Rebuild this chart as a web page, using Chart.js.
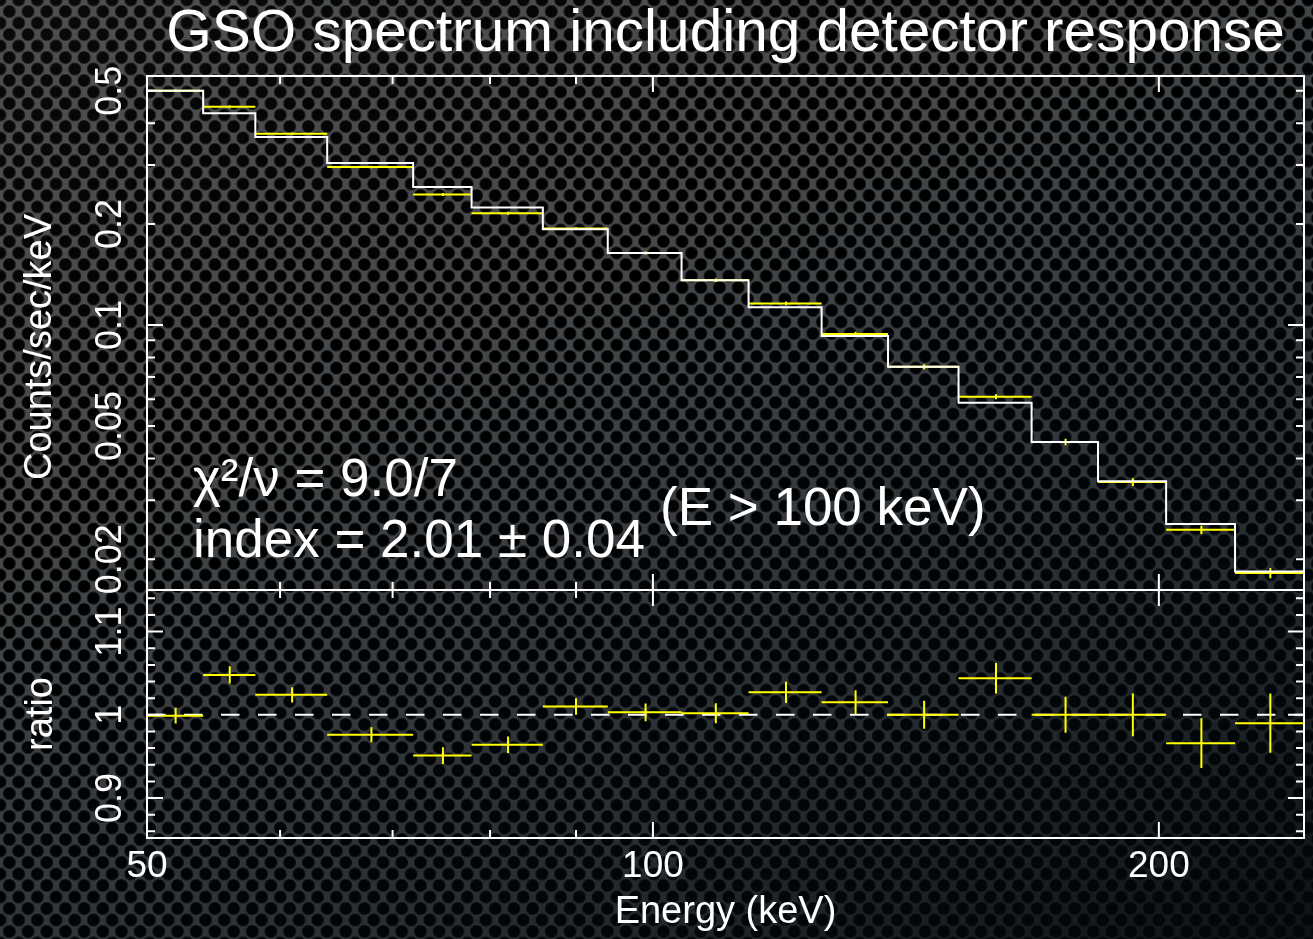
<!DOCTYPE html>
<html>
<head>
<meta charset="utf-8">
<title>GSO spectrum including detector response</title>
<script src="https://cdn.jsdelivr.net/npm/chart.js@4.4.1/dist/chart.umd.min.js"></script>
<style>
  html, body { margin: 0; padding: 0; }
  body {
    width: 1313px; height: 939px; overflow: hidden; position: relative;
    background-color: #46494c;
    background-image:
      linear-gradient(155deg, rgba(255,255,255,0.04) 0%, rgba(0,0,0,0) 35%, rgba(4,12,18,0.45) 72%, rgba(2,8,12,0.85) 100%),
      radial-gradient(circle, #000 0, #000 5.5px, rgba(0,0,0,0) 7px),
      radial-gradient(circle, #000 0, #000 5.5px, rgba(0,0,0,0) 7px);
    background-size: 100% 100%, 18.7px 23px, 18.7px 23px;
    background-position: 0 0, 0 0, 9.35px 11.5px;
  }
  .panel { position: absolute; left: 0; top: 0; width: 1313px; height: 939px; }
</style>
</head>
<body>
<div class="panel"><canvas id="spec"></canvas></div>
<div class="panel"><canvas id="ratio"></canvas></div>
<script>
// energy bins (keV)
var binLo  = [50, 54, 58, 64, 72, 78, 86, 94, 104, 114, 126, 138, 152, 168, 184, 202, 222];
var binHi  = [54, 58, 64, 72, 78, 86, 94, 104, 114, 126, 138, 152, 168, 184, 202, 222, 244];
var binMid = [52, 56, 61, 68, 75, 82, 90, 99, 109, 120, 132, 145, 160, 176, 193, 212, 233];

// counts/sec/keV
var modelRate = [0.4995, 0.428, 0.364, 0.304, 0.258, 0.224, 0.193, 0.164, 0.136, 0.113, 0.0927, 0.0751, 0.0586, 0.0448, 0.0342, 0.0255, 0.0184];
var dataRate  = [0.500, 0.448, 0.372, 0.296, 0.245, 0.2155, 0.194, 0.164, 0.136, 0.116, 0.094, 0.0751, 0.0611, 0.0448, 0.0340, 0.0245, 0.0182];
var dataErr   = [0.0048, 0.0047, 0.0034, 0.0027, 0.0025, 0.0021, 0.0019, 0.0017, 0.0016, 0.0015, 0.0014, 0.0013, 0.0011, 0.0010, 0.0009, 0.0007, 0.00065];

// data / model
var ratio    = [0.999, 1.048, 1.024, 0.976, 0.951, 0.964, 1.010, 1.003, 1.002, 1.027, 1.015, 1.000, 1.044, 1.000, 1.000, 0.966, 0.990];
var ratioErr = [0.0095, 0.0104, 0.0092, 0.009, 0.010, 0.010, 0.010, 0.0106, 0.012, 0.0128, 0.0144, 0.0168, 0.0184, 0.0216, 0.0256, 0.030, 0.0356];

// axes
var energyRange = [50, 244];
var countsRange = [0.0162, 0.553];
var ratioRange  = [0.852, 1.15];
var energyLabels = [50, 100, 200];
var energyMajor  = [100, 200];
var energyMinor  = [60, 70, 80, 90];
var countsLabels = [0.5, 0.2, 0.1, 0.05, 0.02];
var countsMajor  = [0.1];
var countsMinor  = [0.02, 0.03, 0.04, 0.05, 0.06, 0.07, 0.08, 0.09, 0.2, 0.3, 0.4, 0.5];
var ratioLabels  = [0.9, 1, 1.1];
var ratioMajor   = [0.9, 1, 1.1];
var ratioMinor   = [0.86, 0.88, 0.92, 0.94, 0.96, 0.98, 1.02, 1.04, 1.06, 1.08, 1.12, 1.14];

Chart.defaults.font.family = '"Liberation Sans", Arial, Helvetica, sans-serif';
Chart.defaults.color = '#ffffff';

function hBars(vals) {
  var out = [];
  vals.forEach(function (v, i) {
    out.push({x: binLo[i], y: v}, {x: binHi[i], y: v}, {x: binHi[i], y: null});
  });
  return out;
}

function vBars(vals, errs) {
  var out = [];
  vals.forEach(function (v, i) {
    out.push({x: binMid[i], y: v - errs[i]}, {x: binMid[i], y: v + errs[i]}, {x: binMid[i], y: null});
  });
  return out;
}

var modelSteps = binLo.map(function (e, i) { return {x: e, y: modelRate[i]}; });
modelSteps.push({x: binHi[binHi.length - 1], y: modelRate[modelRate.length - 1]});

// white box + inward ticks on all four sides, rotated y labels
function panelFrame(yMajor, yMinor, yLabels, yTitle) {
  return {
    id: 'panelFrame',
    afterDatasetsDraw: function (chart) {
      var ctx = chart.ctx, a = chart.chartArea;
      var sx = chart.scales.x, sy = chart.scales.y;
      ctx.save();
      ctx.strokeStyle = '#ffffff';
      ctx.lineWidth = 2;
      ctx.strokeRect(a.left, a.top, a.right - a.left, a.bottom - a.top);
      ctx.beginPath();
      function xt(v, len) {
        var p = sx.getPixelForValue(v);
        ctx.moveTo(p, a.top); ctx.lineTo(p, a.top + len);
        ctx.moveTo(p, a.bottom); ctx.lineTo(p, a.bottom - len);
      }
      function yt(v, len) {
        var p = sy.getPixelForValue(v);
        ctx.moveTo(a.left, p); ctx.lineTo(a.left + len, p);
        ctx.moveTo(a.right, p); ctx.lineTo(a.right - len, p);
      }
      energyMajor.forEach(function (v) { xt(v, 16); });
      energyMinor.forEach(function (v) { xt(v, 8); });
      yMajor.forEach(function (v) { yt(v, 16); });
      yMinor.forEach(function (v) { yt(v, 8); });
      ctx.stroke();

      ctx.fillStyle = '#ffffff';
      ctx.font = '36px "Liberation Sans", Arial, sans-serif';
      ctx.textAlign = 'center';
      ctx.textBaseline = 'middle';
      yLabels.forEach(function (v) {
        ctx.save();
        ctx.translate(111, sy.getPixelForValue(v));
        ctx.rotate(-Math.PI / 2);
        ctx.fillText(String(v), 0, 0);
        ctx.restore();
      });
      if (yTitle) {
        ctx.font = '38px "Liberation Sans", Arial, sans-serif';
        ctx.save();
        ctx.translate(41, (a.top + a.bottom) / 2 + 14);
        ctx.rotate(-Math.PI / 2);
        ctx.fillText(yTitle, 0, 0);
        ctx.restore();
      }
      ctx.restore();
    }
  };
}

var notes = {
  id: 'notes',
  afterDraw: function (chart) {
    var ctx = chart.ctx;
    ctx.save();
    ctx.fillStyle = '#ffffff';
    ctx.font = '53px "Liberation Sans", Arial, sans-serif';
    ctx.textBaseline = 'alphabetic';
    ctx.textAlign = 'left';
    ctx.fillText('χ²/ν = 9.0/7', 193, 496);
    ctx.fillText('index = 2.01 ± 0.04', 193, 557);
    ctx.fillText('(E > 100 keV)', 660, 525);
    ctx.restore();
  }
};

var spec = new Chart(document.getElementById('spec'), {
  type: 'line',
  data: {
    datasets: [
      { data: modelSteps, borderColor: '#ffffff', borderWidth: 2, stepped: 'before', pointRadius: 0 },
      { data: hBars(dataRate), borderColor: '#ffff00', borderWidth: 2, pointRadius: 0 },
      { data: vBars(dataRate, dataErr), borderColor: '#ffff00', borderWidth: 2, pointRadius: 0 }
    ]
  },
  options: {
    responsive: true,
    maintainAspectRatio: false,
    animation: false,
    devicePixelRatio: 1,
    layout: { padding: { left: 0, top: 0, right: 9, bottom: 349 } },
    plugins: {
      legend: { display: false },
      tooltip: { enabled: false },
      title: {
        display: true,
        text: 'GSO spectrum including detector response',
        color: '#ffffff',
        fullSize: false,
        font: { size: 58.5, weight: 'normal' },
        padding: { top: 0, bottom: 5.8 }
      }
    },
    scales: {
      x: { type: 'logarithmic', min: energyRange[0], max: energyRange[1], display: false },
      y: {
        type: 'logarithmic', min: countsRange[0], max: countsRange[1],
        ticks: { display: false },
        grid: { display: false, drawTicks: false },
        border: { display: false },
        afterFit: function (s) { s.width = 147; }
      }
    }
  },
  plugins: [panelFrame(countsMajor, countsMinor, countsLabels, 'Counts/sec/keV'), notes]
});

var ratioChart = new Chart(document.getElementById('ratio'), {
  type: 'line',
  data: {
    datasets: [
      { data: hBars(ratio), borderColor: '#ffff00', borderWidth: 2, pointRadius: 0, order: 0 },
      { data: vBars(ratio, ratioErr), borderColor: '#ffff00', borderWidth: 2, pointRadius: 0, order: 0 },
      { data: [{x: energyRange[0], y: 1}, {x: energyRange[1], y: 1}], borderColor: '#ffffff', borderWidth: 2,
        borderDash: [18.5, 18.5], pointRadius: 0, order: 1 }
    ]
  },
  options: {
    responsive: true,
    maintainAspectRatio: false,
    animation: false,
    devicePixelRatio: 1,
    layout: { padding: { left: 0, top: 590, right: 9, bottom: 0 } },
    plugins: { legend: { display: false }, tooltip: { enabled: false } },
    scales: {
      x: {
        type: 'logarithmic', min: energyRange[0], max: energyRange[1],
        grid: { display: false, drawTicks: false },
        border: { display: false },
        afterBuildTicks: function (s) { s.ticks = energyLabels.map(function (v) { return {value: v}; }); },
        ticks: { color: '#ffffff', font: { size: 37 }, padding: 7, autoSkip: false, maxRotation: 0,
                 callback: function (v) { return String(v); } },
        title: { display: true, text: 'Energy (keV)', color: '#ffffff', font: { size: 38 }, padding: { top: 0, bottom: 4 } },
        afterFit: function (s) { s.height = 101; }
      },
      y: {
        type: 'linear', min: ratioRange[0], max: ratioRange[1],
        ticks: { display: false },
        grid: { display: false, drawTicks: false },
        border: { display: false },
        title: { display: true, text: 'ratio', color: '#ffffff', font: { size: 38 }, padding: { top: 19, bottom: 0 } },
        afterFit: function (s) { s.width = 147; }
      }
    }
  },
  plugins: [panelFrame(ratioMajor, ratioMinor, ratioLabels, null)]
});
</script>
</body>
</html>
